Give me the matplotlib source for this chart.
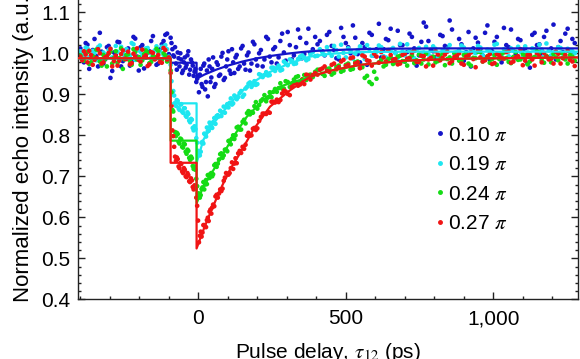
import matplotlib
matplotlib.use("Agg")
import matplotlib.pyplot as plt
from matplotlib.lines import Line2D
from matplotlib.ticker import MultipleLocator, FixedLocator, FixedFormatter
import numpy as np

plt.rcParams['font.family'] = ['Liberation Sans', 'DejaVu Sans']
plt.rcParams['mathtext.fontset'] = 'stix'

# ---------------- data ----------------
# scan 1 delays (ps)
delay_ps = [
    -400, -388, -376, -364, -352, -340, -328, -316, -304, -292, -280, -268, -256,
    -244, -232, -220, -208, -196, -184, -172, -160, -148, -136, -124, -112, -100,
    -94, -88, -82, -76, -70, -64, -58, -52, -46, -40, -34, -28, -22, -16, -10, -4,
    2, 8, 14, 20, 26, 32, 38, 44, 50, 58, 66, 74, 82, 90, 98, 106, 114, 122, 130,
    140, 150, 160, 170, 180, 190, 200, 212, 224, 236, 248, 260, 272, 284, 296, 310,
    324, 338, 352, 366, 380, 396,
    412, 428, 444, 460, 476, 492, 508, 524, 540, 556, 572, 588, 604, 620, 636, 652,
    668, 684, 700, 716, 732, 748, 764, 780, 796, 812, 828, 844, 860, 876, 892, 908,
    924, 940, 956, 972, 988, 1004, 1020, 1036, 1052, 1068, 1084, 1100, 1116, 1132,
    1148, 1164, 1180, 1196, 1212, 1228, 1244, 1260, 1276]
# scan 2 delays (ps)
delay_ps_2 = [
    -394, -382, -370, -358, -346, -334, -322, -310, -298, -286, -274, -262, -250,
    -238, -226, -214, -202, -190, -178, -166, -154, -142, -130, -118, -106,
    -91, -85, -79, -73, -67, -61, -55, -49, -43, -37, -31, -25, -19, -13, -7, -1,
    5, 11, 17, 23, 29, 35, 41, 47, 54, 62, 70, 78, 86, 94, 102, 110, 118, 126, 135,
    145, 155, 165, 175, 185, 195, 206, 218, 230, 242, 254, 266, 278, 290, 303, 317,
    331, 345, 359, 373, 388, 404,
    420, 436, 452, 468, 484, 500, 516, 532, 548, 564, 580, 596, 612, 628, 644, 660,
    676, 692, 708, 724, 740, 756, 772, 788, 804, 820, 836, 852, 868, 884, 900, 916,
    932, 948, 964, 980, 996, 1012, 1028, 1044, 1060, 1076, 1092, 1108, 1124, 1140,
    1156, 1172, 1188, 1204, 1220, 1236, 1252, 1268]

# echo intensities (x 1/1000), scan 1
echo_010 = [
    1012, 978, 1021, 990, 1035, 968, 1004, 985, 1018, 957, 996, 1027, 981, 1009, 970,
    1040, 992, 1015, 963, 1003, 1030, 987, 975, 1022, 1045, 998,
    1038, 1010, 992, 975, 1002, 968, 985, 958, 990, 972, 1005, 960, 978, 945, 962, 938,
    905, 962, 918, 975, 930, 895, 968, 941, 990, 925, 972, 948, 1001, 940, 985, 958,
    1010, 952, 996, 968, 1018, 960, 1002, 975, 1022, 970, 1008, 985, 1035, 978, 1015,
    990, 1048, 982, 1020, 995, 1058, 988, 1025, 1001, 1040,
    1030, 995, 1052, 1008, 985, 1040, 1015, 1068, 998, 1025, 972, 1045, 1010, 990,
    1035, 1060, 1002, 1020, 980, 1048, 1012, 995, 1075, 1030, 1005, 988, 1042, 1015,
    1058, 992, 1022, 1003, 968, 1038, 1010, 1050, 985, 1028, 1000, 1062, 1015, 990,
    1035, 1008, 975, 1045, 1020, 1000, 1055, 1012, 985, 1030, 1048, 1005, 1025]
echo_019 = [
    1005, 992, 1012, 988, 1001, 1015, 985, 997, 1008, 990, 1018, 983, 1000, 1010, 994,
    1022, 987, 1004, 996, 1013, 989, 1007, 999, 1016, 1020, 992,
    972, 905, 897, 872, 884, 862, 876, 855, 866, 845, 852, 832, 838, 812, 815, 782,
    752, 760, 784, 804, 797, 810, 831, 820, 832, 828, 849, 860, 856, 855, 876, 879,
    875, 897, 888, 903, 894, 914, 926, 918, 932, 925, 947, 947, 946, 965, 957, 970,
    960, 976, 985, 974, 986, 995, 983, 997, 993,
    1010, 996, 1005, 1018, 992, 1001, 1012, 987, 1008, 999, 1020, 994, 1004, 1015,
    990, 1009, 1000, 1023, 995, 1006, 988, 1013, 1002, 997, 1017, 991, 1007, 1011,
    985, 1003, 1019, 996, 1008, 1000, 1014, 989, 1005, 1021, 998, 1010, 993, 1006,
    1016, 990, 1002, 1012, 997, 1009, 1024, 995, 1004, 1013, 988, 1007, 1000]
echo_024 = [
    995, 982, 1003, 978, 990, 1008, 970, 986, 999, 975, 1005, 988, 962, 996, 981,
    1010, 985, 972, 998, 1002, 979, 991, 1006, 984, 995, 988,
    958, 862, 838, 798, 803, 780, 790, 770, 778, 755, 762, 740, 744, 718, 716, 676,
    658, 654, 673, 668, 691, 703, 696, 708, 705, 730, 731, 754, 745, 765, 761, 787,
    792, 791, 819, 814, 833, 829, 859, 857, 871, 865, 884, 898, 892, 893, 913, 915,
    914, 932, 918, 936, 944, 936, 935, 948, 955,
    960, 945, 963, 952, 970, 958, 975, 962, 980, 966, 945, 925, 938, 984, 972, 990,
    978, 994, 980, 989, 976, 997, 985, 973, 992, 981, 1000, 986, 975, 993, 982, 998,
    970, 988, 1003, 984, 977, 995, 986, 1002, 979, 991, 984, 998, 973, 989, 1005,
    983, 994, 978, 990, 1001, 985, 996, 982]
echo_027 = [
    992, 1005, 978, 996, 984, 1010, 975, 990, 1001, 968, 994, 982, 1007, 986, 973,
    999, 1012, 980, 991, 969, 1003, 985, 996, 977, 1008, 990,
    952, 812, 772, 738, 742, 720, 730, 708, 716, 698, 703, 686, 690, 668, 670, 628,
    539, 565, 563, 581, 576, 599, 614, 609, 631, 651, 648, 668, 670, 697, 706, 708,
    734, 731, 732, 762, 772, 777, 806, 800, 818, 817, 845, 853, 857, 882, 880, 881,
    902, 907, 898, 926, 921, 936, 948, 936, 952,
    960, 968, 955, 975, 966, 984, 972, 990, 978, 995, 983, 970, 992, 1003, 980, 996,
    986, 975, 999, 988, 1006, 979, 993, 985, 970, 997, 989, 1004, 981, 994, 975, 992,
    1002, 966, 990, 983, 998, 976, 995, 987, 1005, 980, 993, 971, 996, 985, 1000,
    978, 992, 987, 1004, 975, 996, 984, 969]

# echo intensities (x 1/1000), scan 2
echo_010_2 = [
    985, 1025, 962, 1008, 993, 1050, 975, 1015, 940, 1002, 1028, 968, 996, 1012, 980,
    1036, 958, 1020, 990, 1005, 1042, 972, 1010, 1030, 1048,
    1025, 995, 1015, 960, 988, 1000, 952, 978, 965, 995, 948, 985, 970, 955, 930, 945,
    948, 925, 970, 912, 958, 985, 930, 962, 918, 978, 945, 992, 935, 968, 1005, 950,
    978, 990, 962, 1012, 975, 995, 958, 1028, 985, 1000, 968, 1040, 992, 1010, 975,
    1030, 1002, 1052, 985, 1015, 1038, 998, 1060, 1010, 1022,
    1005, 1045, 1018, 988, 1062, 1025, 1000, 1038, 978, 1015, 1050, 995, 1072, 1010,
    1032, 985, 1055, 1020, 1003, 1040, 970, 1028, 1065, 1008, 990, 1045, 1018, 1080,
    1000, 1035, 982, 1052, 1012, 1026, 995, 1068, 1005, 1040, 978, 1020, 1058, 998,
    1032, 1012, 965, 1050, 1022, 1040, 990, 1070, 1015, 1003, 1060, 1035]
echo_019_2 = [
    998, 1014, 990, 1006, 983, 1019, 1002, 993, 1011, 986, 1004, 1016, 991, 999, 1025,
    984, 1008, 995, 1012, 1001, 988, 1017, 1005, 996, 1010,
    932, 908, 879, 886, 866, 875, 858, 866, 848, 856, 836, 840, 818, 822, 793, 762,
    751, 782, 780, 803, 819, 811, 824, 818, 842, 847, 846, 847, 870, 869, 868, 890,
    878, 894, 893, 908, 899, 918, 929, 923, 923, 949, 942, 954, 947, 965, 964, 958,
    980, 971, 982, 975, 992, 990, 986, 1003, 994,
    1003, 1015, 994, 1008, 1021, 990, 1006, 999, 1017, 986, 1010, 1002, 1019, 993,
    1007, 1013, 989, 1004, 1022, 997, 1009, 1001, 1016, 992, 1011, 987, 1005, 1020,
    998, 1008, 1014, 991, 1003, 1018, 995, 1009, 1000, 1023, 993, 1006, 1012, 988,
    1004, 1017, 999, 1010, 1021, 994, 1007, 1002, 1015, 990, 1011, 1005]
echo_024_2 = [
    987, 1001, 974, 993, 1009, 980, 996, 968, 1004, 989, 977, 1012, 985, 998, 972,
    1003, 991, 983, 1007, 976, 994, 1011, 986, 1000, 980,
    905, 858, 808, 806, 784, 792, 772, 780, 760, 765, 745, 748, 725, 724, 694, 658,
    648, 669, 686, 680, 681, 703, 706, 700, 727, 723, 741, 756, 751, 765, 786, 778,
    800, 800, 821, 814, 838, 854, 851, 855, 881, 874, 888, 883, 905, 906, 906, 927,
    914, 930, 927, 942, 929, 947, 947, 942, 960,
    950, 962, 948, 967, 955, 972, 960, 978, 964, 940, 930, 955, 978, 968, 986, 974,
    992, 981, 970, 995, 983, 975, 999, 987, 978, 994, 971, 990, 1001, 982, 996, 975,
    989, 1004, 980, 993, 986, 972, 999, 988, 976, 1003, 985, 995, 980, 991, 1002,
    977, 987, 998, 983, 1000, 975, 992]
echo_027_2 = [
    983, 997, 1006, 972, 989, 1000, 978, 993, 1011, 981, 970, 998, 987, 1004, 976,
    992, 984, 1009, 995, 973, 1001, 988, 979, 1013, 985,
    872, 798, 748, 746, 724, 732, 712, 720, 700, 708, 688, 695, 674, 678, 648, 592,
    555, 553, 581, 577, 593, 591, 619, 624, 627, 655, 658, 664, 689, 708, 704, 720,
    718, 744, 756, 757, 767, 799, 799, 816, 813, 835, 853, 852, 855, 882, 887, 886,
    909, 901, 918, 928, 924, 925, 946, 947, 948,
    963, 957, 972, 961, 980, 969, 988, 975, 964, 992, 981, 999, 977, 990, 1008, 984,
    973, 996, 987, 1002, 979, 994, 968, 989, 1005, 983, 997, 976, 991, 1000, 972, 995,
    986, 1007, 980, 992, 974, 998, 988, 1003, 977, 990, 1010, 982, 996, 970, 993,
    1001, 985, 975, 999, 988, 1006, 980]

# fitted model curves (vertices)
fit_010_x = [-407, -94, -94, -6, -6, 20, 60, 100, 150, 200, 250, 300, 350, 400, 500, 600, 800, 1286]
fit_010_y = [0.988, 0.988, 0.977, 0.977, 0.938, 0.948, 0.960, 0.970, 0.980, 0.988, 0.994,
             0.999, 1.003, 1.006, 1.009, 1.011, 1.012, 1.012]
fit_019_x = [-407, -94, -94, -6, -6, 17, 51, 107, 164, 232, 311, 379, 450, 550, 700, 1286]
fit_019_y = [0.988, 0.988, 0.878, 0.878, 0.732, 0.789, 0.829, 0.878, 0.919, 0.951, 0.976,
             0.992, 0.999, 1.003, 1.004, 1.004]
fit_024_x = [-407, -94, -94, -6, -6, 17, 51, 85, 119, 164, 220, 277, 379, 450, 550, 700, 900, 1286]
fit_024_y = [0.988, 0.988, 0.787, 0.787, 0.634, 0.675, 0.715, 0.756, 0.797, 0.845, 0.886,
             0.919, 0.943, 0.958, 0.972, 0.982, 0.987, 0.990]
fit_027_x = [-407, -94, -94, -6, -6, 17, 40, 74, 107, 141, 186, 243, 311, 379, 450, 550, 700, 900, 1286]
fit_027_y = [0.988, 0.988, 0.733, 0.733, 0.524, 0.569, 0.610, 0.667, 0.716, 0.756, 0.813,
             0.870, 0.910, 0.943, 0.958, 0.972, 0.982, 0.987, 0.990]

labels = ["0.10 $\\pi$", "0.19 $\\pi$", "0.24 $\\pi$", "0.27 $\\pi$"]
colors = ["#1414c8", "#1ee6f0", "#14dc14", "#f01414"]

x_ticks = [0, 500, 1000]
x_tick_labels = ["0", "500", "1,000"]
y_ticks = [0.4, 0.5, 0.6, 0.7, 0.8, 0.9, 1.0, 1.1]

# ---------------- plot ----------------
fig = plt.figure(figsize=(5.8, 3.59), dpi=100)
ax = fig.add_axes([0.135, 0.1663, 0.861, 0.8565])

series = [(echo_010, echo_010_2, fit_010_x, fit_010_y),
          (echo_019, echo_019_2, fit_019_x, fit_019_y),
          (echo_024, echo_024_2, fit_024_x, fit_024_y),
          (echo_027, echo_027_2, fit_027_x, fit_027_y)]
x1 = np.array(delay_ps, dtype=float)
x2 = np.array(delay_ps_2, dtype=float)
for (y1, y2, fx, fy), c in zip(series, colors):
    xs = np.concatenate([x1, x2])
    ys = np.concatenate([np.array(y1, float), np.array(y2, float)]) / 1000.0
    ax.scatter(xs, ys, s=11, color=c, edgecolors='none', zorder=2)
    ax.plot(fx, fy, color=c, lw=1.6, zorder=3)

ax.set_xlim(-407, 1286)
ax.set_ylim(0.4, 1.15)

ax.xaxis.set_major_locator(FixedLocator(x_ticks))
ax.xaxis.set_major_formatter(FixedFormatter(x_tick_labels))
ax.xaxis.set_minor_locator(MultipleLocator(100))
ax.yaxis.set_major_locator(FixedLocator(y_ticks))
ax.yaxis.set_major_formatter(FixedFormatter([f"{v:.1f}" for v in y_ticks]))
ax.yaxis.set_minor_locator(MultipleLocator(0.02))

ax.tick_params(which='both', direction='in', right=True, top=False, width=1.0,
               labelsize=15, color='#222222')
ax.tick_params(axis='x', which='major', length=5, pad=7)
ax.tick_params(axis='y', which='major', length=5, pad=6)
ax.tick_params(which='minor', length=2.5)
for sp in ax.spines.values():
    sp.set_linewidth(1.0)
    sp.set_color('#222222')

ax.set_xlabel("Pulse delay, $\\tau_{12}$ (ps)", fontsize=15, labelpad=9)
ax.set_ylabel("Normalized echo intensity (a.u.)", fontsize=16, labelpad=5)

handles = [Line2D([], [], marker='o', ls='none', color=c, markersize=2.5) for c in colors]
ax.legend(handles, labels, loc='center left', bbox_to_anchor=(0.70, 0.39),
          frameon=False, fontsize=15, handlelength=0.4, handletextpad=0.15,
          labelspacing=0.5, borderaxespad=0)

fig.savefig("out.png", dpi=100)
